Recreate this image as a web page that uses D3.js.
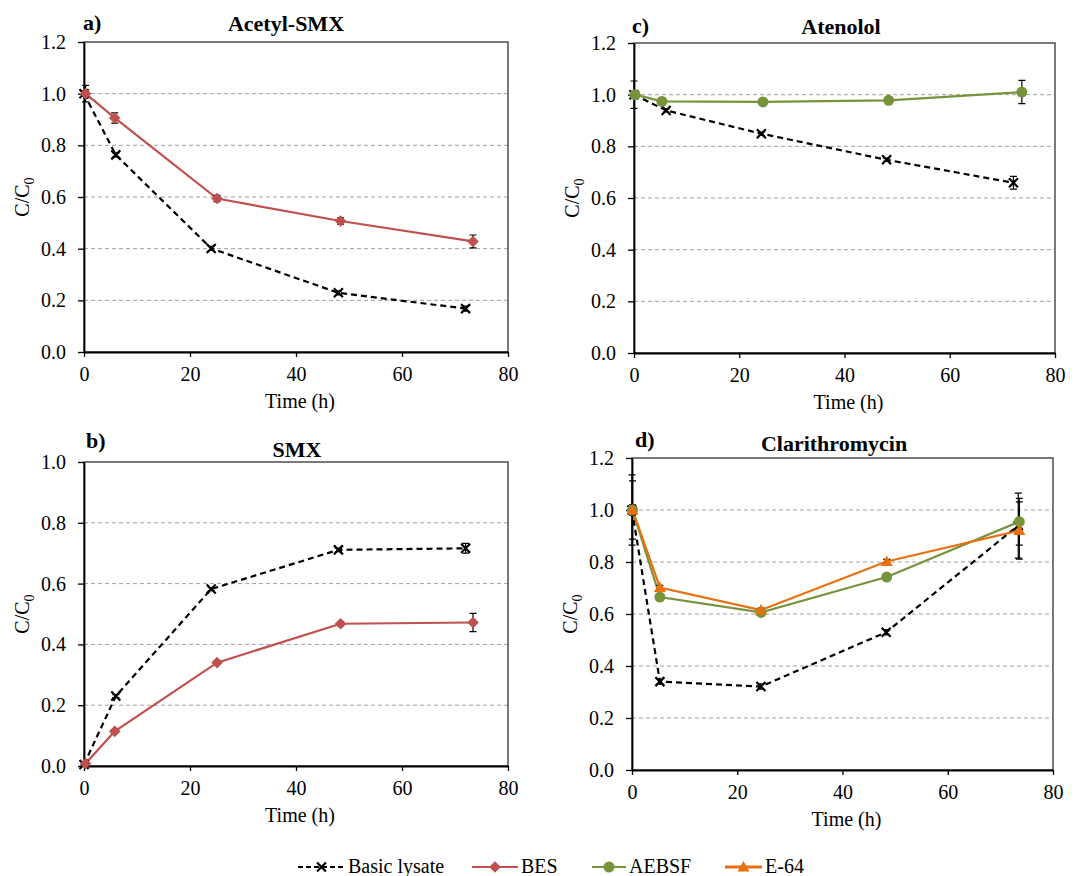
<!DOCTYPE html>
<html lang="en">
<head>
    <meta charset="UTF-8">
    <title>C/C0 over time</title>
    <style>
        body {
            margin: 0;
            background: #fff;
        }
        svg text {
            font-family: "Liberation Serif", "Times New Roman", serif !important;
            fill: #000;
        }
        .grid {
            stroke: #a0a0a0;
            stroke-width: 1px;
            stroke-dasharray: 4,3;
        }
    </style>
    <script src="https://d3js.org/d3.v7.min.js"></script>
</head>
<body>
    <div id="chart"></div>

    <script>
        // Data: rows are [time (h), C/C0, error]
        const acetylBasic = [[0, 1.0, 0.01], [6, 0.763, 0.008], [24, 0.401, 0.008], [48, 0.229, 0.008], [72, 0.168, 0.01]];
        const acetylBES   = [[0.3, 1.0, 0.032], [5.8, 0.906, 0.02], [25.1, 0.594, 0.012], [48.4, 0.507, 0.012], [73.4, 0.428, 0.025]];

        const smxBasic = [[0, 0.005, 0.003], [6, 0.23, 0.005], [24, 0.582, 0.005], [48, 0.711, 0.006], [72, 0.716, 0.016]];
        const smxBES   = [[0.3, 0.008, 0.005], [5.8, 0.114, 0.006], [25.1, 0.34, 0.006], [48.4, 0.468, 0.006], [73.4, 0.472, 0.03]];

        const atenololBasic = [[0, 1.0, 0.053], [6.1, 0.939, 0.006], [24.2, 0.849, 0.006], [48, 0.748, 0.006], [72.1, 0.659, 0.025]];
        const atenololAEBSF = [[0.2, 1.0, 0.01], [5.3, 0.974, 0.005], [24.5, 0.972, 0.005], [48.4, 0.978, 0.005], [73.7, 1.01, 0.045]];

        const clariBasic = [[0, 1.0, 0.135], [5.3, 0.34, 0.01], [24.5, 0.321, 0.01], [48.3, 0.53, 0.01], [73.4, 0.94, 0.125]];
        const clariAEBSF = [[0.1, 1.0, 0.02], [5.3, 0.665, 0.008], [24.5, 0.606, 0.008], [48.4, 0.742, 0.008], [73.6, 0.955, 0.09]];
        const clariE64   = [[0.1, 1.0, 0.112], [5.3, 0.702, 0.008], [24.5, 0.615, 0.008], [48.4, 0.802, 0.008], [73.6, 0.921, 0.11]];

        const xTicks = [0, 20, 40, 60, 80];
        const yTicks12 = [0, 0.2, 0.4, 0.6, 0.8, 1.0, 1.2];
        const yTicks10 = [0, 0.2, 0.4, 0.6, 0.8, 1.0];

        const legendNames = ["Basic lysate", "BES", "AEBSF", "E-64"];

        // series look
        const style = {
            "Basic lysate": { color: "#000000", dash: "6,4", marker: "x" },
            "BES":          { color: "#c0504d", dash: null, marker: "diamond" },
            "AEBSF":        { color: "#77933c", dash: null, marker: "circle" },
            "E-64":         { color: "#e8700f", dash: null, marker: "triangle" }
        };

        const panels = [
            { letter: "a)", title: "Acetyl-SMX", box: [84, 42, 508, 352], yMax: 1.2, yTicks: yTicks12,
              letterPos: [83, 30], titlePos: [286, 31],
              series: [["Basic lysate", acetylBasic], ["BES", acetylBES]] },
            { letter: "b)", title: "SMX", box: [84, 462, 508, 766], yMax: 1.0, yTicks: yTicks10,
              letterPos: [86, 448], titlePos: [297, 457],
              series: [["Basic lysate", smxBasic], ["BES", smxBES]] },
            { letter: "c)", title: "Atenolol", box: [634, 43, 1055, 353], yMax: 1.2, yTicks: yTicks12,
              letterPos: [632, 33], titlePos: [841, 34],
              series: [["Basic lysate", atenololBasic], ["AEBSF", atenololAEBSF]] },
            { letter: "d)", title: "Clarithromycin", box: [632, 458, 1053, 770], yMax: 1.2, yTicks: yTicks12,
              letterPos: [635, 447], titlePos: [834, 451],
              series: [["Basic lysate", clariBasic], ["AEBSF", clariAEBSF], ["E-64", clariE64]] }
        ];

        const width = 1089;
        const height = 876;
        const svg = d3.select("#chart")
            .append("svg")
            .attr("width", width)
            .attr("height", height);

        svg.append("rect").attr("width", width).attr("height", height).attr("fill", "#fff");

        function drawMarker(g, kind, x, y, color) {
            if (kind === "x") {
                const s = 4.5;
                g.append("path")
                    .attr("d", `M${x - s},${y - s}L${x + s},${y + s}M${x - s},${y + s}L${x + s},${y - s}`)
                    .attr("stroke", color)
                    .attr("stroke-width", 2.2)
                    .attr("fill", "none");
            } else if (kind === "diamond") {
                const s = 5.8;
                g.append("path")
                    .attr("d", `M${x},${y - s}L${x + s},${y}L${x},${y + s}L${x - s},${y}Z`)
                    .attr("fill", color);
            } else if (kind === "circle") {
                g.append("circle").attr("cx", x).attr("cy", y).attr("r", 5.5).attr("fill", color);
            } else if (kind === "triangle") {
                const s = 6;
                g.append("path")
                    .attr("d", `M${x},${y - s}L${x + s},${y + s * 0.75}L${x - s},${y + s * 0.75}Z`)
                    .attr("fill", color);
            }
        }

        panels.forEach(p => {
            const [x0, y0, x1, y1] = p.box;
            const x = d3.scaleLinear().domain([0, 80]).range([x0, x1]);
            const y = d3.scaleLinear().domain([0, p.yMax]).range([y1, y0]);
            const g = svg.append("g");

            // grid lines
            g.selectAll(".grid")
                .data(p.yTicks.filter(t => t > 0 && t < p.yMax - 1e-9))
                .enter()
                .append("line")
                .attr("class", "grid")
                .attr("x1", x0).attr("x2", x1)
                .attr("y1", d => y(d)).attr("y2", d => y(d));

            // plot box
            g.append("rect")
                .attr("x", x0).attr("y", y0)
                .attr("width", x1 - x0).attr("height", y1 - y0)
                .attr("fill", "none")
                .attr("stroke", "#333")
                .attr("stroke-width", 1.3);

            // axes
            const yAxis = g.append("g")
                .attr("transform", `translate(${x0},0)`)
                .call(d3.axisLeft(y).tickValues(p.yTicks).tickFormat(d3.format(".1f")).tickSize(6).tickSizeOuter(0).tickPadding(12));
            const xAxis = g.append("g")
                .attr("transform", `translate(0,${y1})`)
                .call(d3.axisBottom(x).tickValues(xTicks).tickFormat(d3.format("d")).tickSize(5).tickSizeOuter(0).tickPadding(10));
            [yAxis, xAxis].forEach(a => {
                a.attr("font-family", null).attr("font-size", null);
                a.select(".domain").attr("stroke", "#000").attr("stroke-width", 1.8);
                a.selectAll(".tick line").attr("stroke", "#000").attr("stroke-width", 1.3);
                a.selectAll(".tick text").style("font-size", "20px");
            });

            // series lines, error bars, markers
            p.series.forEach(([name, rows]) => {
                const st = style[name];
                const line = d3.line().x(d => x(d[0])).y(d => y(d[1]));
                g.append("path")
                    .datum(rows)
                    .attr("d", line)
                    .attr("fill", "none")
                    .attr("stroke", st.color)
                    .attr("stroke-width", 2.2)
                    .attr("stroke-dasharray", st.dash);
            });
            p.series.forEach(([name, rows]) => {
                rows.forEach(d => {
                    const cx = x(d[0]);
                    const top = y(d[1] + d[2]);
                    const bot = y(d[1] - d[2]);
                    g.append("path")
                        .attr("d", `M${cx},${top}L${cx},${bot}M${cx - 3.5},${top}L${cx + 3.5},${top}M${cx - 3.5},${bot}L${cx + 3.5},${bot}`)
                        .attr("stroke", "#000")
                        .attr("stroke-width", 1.2)
                        .attr("fill", "none");
                });
            });
            p.series.forEach(([name, rows]) => {
                const st = style[name];
                rows.forEach(d => drawMarker(g, st.marker, x(d[0]), y(d[1]), st.color));
            });

            // labels
            g.append("text")
                .attr("x", p.letterPos[0]).attr("y", p.letterPos[1])
                .attr("font-size", 22).attr("font-weight", "bold")
                .text(p.letter);
            g.append("text")
                .attr("x", p.titlePos[0]).attr("y", p.titlePos[1])
                .attr("text-anchor", "middle")
                .attr("font-size", 22).attr("font-weight", "bold")
                .text(p.title);
            g.append("text")
                .attr("x", (x0 + x1) / 2 + 4).attr("y", y1 + 56)
                .attr("text-anchor", "middle")
                .attr("font-size", 20)
                .text("Time (h)");
            const yl = g.append("text")
                .attr("transform", `translate(${x0 - 55},${(y0 + y1) / 2}) rotate(-90)`)
                .attr("text-anchor", "middle")
                .attr("font-size", 20);
            yl.append("tspan").text("C/C");
            yl.append("tspan").attr("font-size", 14).attr("dy", 5).text("0");
        });

        // legend
        const legendX = [298, 472, 592, 725];
        const legendLen = [47, 46, 34, 37];
        const legendY = 867;
        const lg = svg.append("g");
        legendNames.forEach((name, i) => {
            const st = style[name];
            const lx = legendX[i];
            lg.append("line")
                .attr("x1", lx).attr("x2", lx + legendLen[i])
                .attr("y1", legendY).attr("y2", legendY)
                .attr("stroke", st.color)
                .attr("stroke-width", name === "E-64" ? 3 : 2.2)
                .attr("stroke-dasharray", st.dash ? "5,3" : null);
            drawMarker(lg, st.marker, lx + legendLen[i] / 2, legendY, st.color);
            lg.append("text")
                .attr("x", lx + legendLen[i] + 3).attr("y", legendY + 6)
                .attr("font-size", 20)
                .text(name);
        });
    </script>
</body>
</html>
